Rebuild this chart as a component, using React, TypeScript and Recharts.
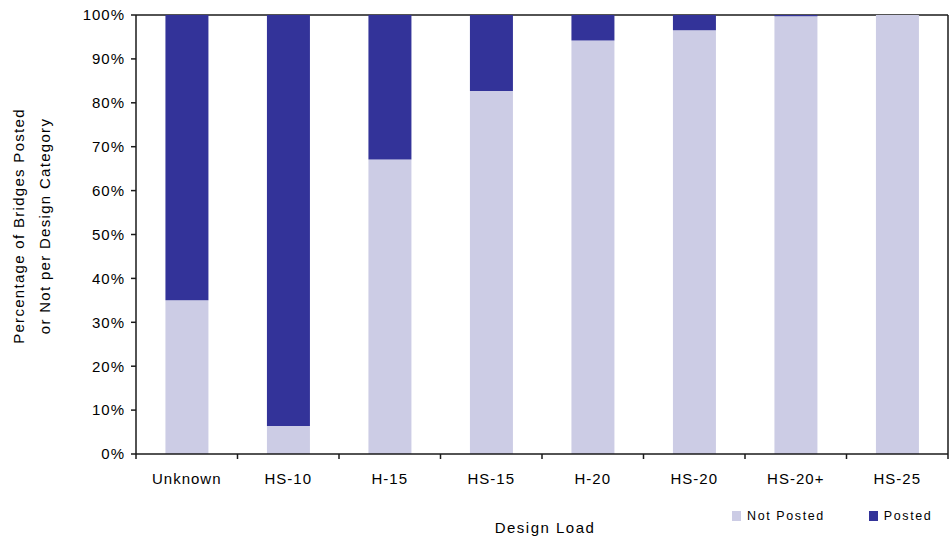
import React from "react";
import {
  BarChart,
  Bar,
  XAxis,
  YAxis,
  Legend,
  CartesianGrid,
} from "recharts";

const FONT = "'Liberation Sans', Arial, sans-serif";
const DARK = "#333399";
const LIGHT = "#CCCCE5";
const AXIS = "#1a1a1a";

// design load categories along the x axis
const designLoads = ["Unknown", "HS-10", "H-15", "HS-15", "H-20", "HS-20", "HS-20+", "HS-25"];

// share of bridges in each category (percent)
const notPosted = [35, 6.4, 67.1, 82.7, 94.2, 96.5, 99.7, 100];
const posted = [65, 93.6, 32.9, 17.3, 5.8, 3.5, 0.3, 0];

const percentTicks = [0, 10, 20, 30, 40, 50, 60, 70, 80, 90, 100];

const data = designLoads.map((load, i) => ({
  load,
  notPosted: notPosted[i],
  posted: posted[i],
}));

const tickStyle = { fill: "#000", fontSize: 15, fontFamily: FONT, letterSpacing: 1 };

// category label plus Excel-style tick marks on the category boundaries
function CategoryTick(props: any) {
  const { x, y, payload, index, visibleTicksCount } = props;
  const half = payload.offset || 50.75;
  const last = index === (visibleTicksCount ?? designLoads.length) - 1;
  return (
    <g>
      <line x1={x - half} x2={x - half} y1={y} y2={y + 5} stroke={AXIS} strokeWidth={1.5} />
      {last && <line x1={x + half} x2={x + half} y1={y} y2={y + 5} stroke={AXIS} strokeWidth={1.5} />}
      <text x={x} y={y + 19} dy="0.71em" textAnchor="middle" {...tickStyle}>
        {payload.value}
      </text>
    </g>
  );
}

function LegendContent({ payload }: any) {
  return (
    <div
      style={{
        display: "flex",
        alignItems: "center",
        fontFamily: FONT,
        fontSize: 12.5,
        letterSpacing: 1.6,
        color: "#000",
        whiteSpace: "nowrap",
      }}
    >
      {(payload || []).map((entry: any, i: number) => (
        <span
          key={entry.value}
          style={{ display: "flex", alignItems: "center", marginRight: i === 0 ? 44 : 0 }}
        >
          <span
            style={{ width: 9, height: 10, background: entry.color, marginRight: 6, display: "inline-block" }}
          />
          {entry.value}
        </span>
      ))}
    </div>
  );
}

function YTitle() {
  const lines = ["Percentage of Bridges Posted", "or Not per Design Category"];
  const xs = [18, 44];
  return (
    <g>
      {lines.map((line, i) => (
        <text
          key={line}
          x={xs[i]}
          y={226}
          transform={`rotate(-90, ${xs[i]}, 226)`}
          textAnchor="middle"
          dominantBaseline="central"
          fontFamily={FONT}
          fontSize={15}
          letterSpacing={1.3}
          fill="#000"
        >
          {line}
        </text>
      ))}
    </g>
  );
}

export default function App() {
  return (
    <div style={{ position: "absolute", left: 0, top: 0, background: "#fff" }}>
      <BarChart
        width={949}
        height={541}
        data={data}
        margin={{ top: 15, right: 0, bottom: 0, left: 0 }}
        barCategoryGap="29%"
      >
        {/* top frame line, kept behind the bars */}
        <CartesianGrid
          vertical={false}
          horizontalCoordinatesGenerator={({ offset }: any) => [offset.top]}
          stroke={AXIS}
          strokeWidth={1.5}
        />
        <XAxis
          dataKey="load"
          height={87}
          axisLine={{ stroke: AXIS, strokeWidth: 1.5 }}
          tickLine={false}
          tickSize={0}
          tickMargin={0}
          tick={<CategoryTick />}
          interval={0}
          label={{
            value: "Design Load",
            position: "insideBottom",
            offset: 8,
            fill: "#000",
            fontSize: 15,
            fontFamily: FONT,
            letterSpacing: 1.5,
            dx: 3,
          }}
        />
        <YAxis
          width={136}
          domain={[0, 100]}
          ticks={percentTicks}
          interval={0}
          tickFormatter={(v: number) => `${v}%`}
          tick={tickStyle}
          tickSize={5}
          tickMargin={6}
          axisLine={{ stroke: AXIS, strokeWidth: 1.5 }}
          tickLine={{ stroke: AXIS, strokeWidth: 1.5 }}
          label={{ content: () => <YTitle /> }}
        />
        <YAxis
          yAxisId="right"
          orientation="right"
          width={1}
          domain={[0, 100]}
          tick={false}
          tickLine={false}
          axisLine={{ stroke: AXIS, strokeWidth: 1.5 }}
        />
        <Legend
          layout="horizontal"
          verticalAlign="middle"
          align="center"
          content={<LegendContent />}
          wrapperStyle={{ left: 732, top: 509, width: "auto" }}
        />
        <Bar
          dataKey="notPosted"
          name="Not Posted"
          stackId="design"
          fill={LIGHT}
          isAnimationActive={false}
        />
        <Bar
          dataKey="posted"
          name="Posted"
          stackId="design"
          fill={DARK}
          isAnimationActive={false}
        />
      </BarChart>
    </div>
  );
}
